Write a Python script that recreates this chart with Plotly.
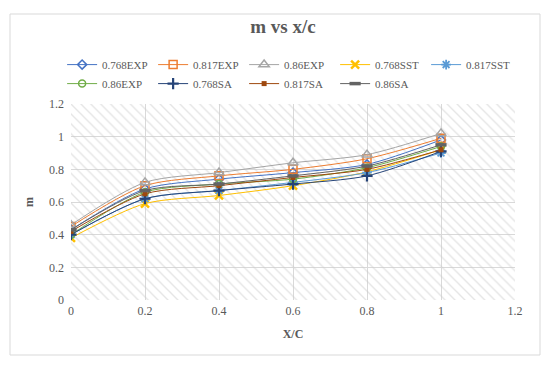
import plotly.graph_objects as go

# ---- data ----
x_c = [0, 0.2, 0.4, 0.6, 0.8, 1.0]
names = ["0.768EXP", "0.817EXP", "0.86EXP", "0.768SST", "0.817SST",
         "0.86EXP", "0.768SA", "0.817SA", "0.86SA"]
m_768EXP = [0.43, 0.68, 0.74, 0.78, 0.83, 0.98]
m_817EXP = [0.45, 0.70, 0.76, 0.80, 0.865, 0.99]
m_86EXP = [0.46, 0.72, 0.78, 0.84, 0.89, 1.02]
m_768SST = [0.38, 0.59, 0.64, 0.70, 0.785, 0.92]
m_817SST = [0.40, 0.62, 0.67, 0.72, 0.78, 0.90]
m_86EXP_b = [0.40, 0.66, 0.71, 0.74, 0.81, 0.94]
m_768SA = [0.40, 0.62, 0.67, 0.71, 0.76, 0.91]
m_817SA = [0.42, 0.65, 0.70, 0.75, 0.80, 0.92]
m_86SA = [0.43, 0.67, 0.71, 0.76, 0.82, 0.95]
series = [m_768EXP, m_817EXP, m_86EXP, m_768SST, m_817SST,
          m_86EXP_b, m_768SA, m_817SA, m_86SA]

x_ticks = [0, 0.2, 0.4, 0.6, 0.8, 1, 1.2]
y_ticks = [0, 0.2, 0.4, 0.6, 0.8, 1, 1.2]
X_RANGE = [0, 1.2]
Y_RANGE = [0, 1.2]

# ---- styles ----
colors = ["#4472C4", "#ED7D31", "#A5A5A5", "#FFC000", "#5B9BD5",
          "#70AD47", "#264478", "#9E480E", "#636363"]
symbols = ["diamond-open", "square-open", "triangle-up-open", "x-thin-open",
           "asterisk-open", "circle-open", "cross-thin-open", "square",
           "line-ew-open"]
sizes = [7, 8, 9, 8, 8, 7, 8, 5, 8]
mlw = [1.5, 1.5, 1.5, 2.5, 1.8, 1.5, 2.2, 0, 3.5]

FONT = "Liberation Serif, Times New Roman, serif"
GRAY = "#595959"

# the page body adds an 8px offset; layout below is expressed in figure px
L, R, T, B = 63, 43, 96, 75
PW, PH = 550 - L - R, 367 - T - B

fig = go.Figure()

# hatched plot-area background
fig.add_trace(go.Bar(
    x=[(X_RANGE[0] + X_RANGE[1]) / 2], y=[Y_RANGE[1]],
    width=[X_RANGE[1] - X_RANGE[0]],
    marker=dict(color="rgba(0,0,0,0)", line=dict(width=0),
                pattern=dict(shape="\\", fgcolor="#cccccc",
                             bgcolor="rgba(0,0,0,0)", size=7, solidity=0.2,
                             fillmode="overlay")),
    hoverinfo="skip", showlegend=False))

for nm, ys, c, s, sz, lw in zip(names, series, colors, symbols, sizes, mlw):
    fig.add_trace(go.Scatter(
        x=x_c, y=ys, name=nm, mode="lines+markers",
        line=dict(color=c, width=1, shape="spline", smoothing=0.8),
        marker=dict(symbol=s, size=sz, color=c,
                    line=dict(color=c, width=lw)),
    ))

fig.update_layout(
    width=550, height=367,
    margin=dict(l=L, r=R, t=T, b=B),
    paper_bgcolor="white", plot_bgcolor="white",
    font=dict(family=FONT, color=GRAY, size=12),
    title=dict(text="<b>m vs x/c</b>", x=0.5, xanchor="center",
               y=1 - 18 / 367, yanchor="middle",
               font=dict(family=FONT, size=19, color=GRAY)),
    legend=dict(orientation="h", x=-0.02, xanchor="left",
                y=1.275, yanchor="top",
                font=dict(family=FONT, size=11, color=GRAY),
                itemwidth=30, entrywidth=46, tracegroupgap=0,
                bgcolor="rgba(0,0,0,0)"),
    showlegend=True,
    barmode="overlay", bargap=0,
    xaxis=dict(range=X_RANGE, tickvals=x_ticks,
               ticktext=[f"{v:g}" for v in x_ticks],
               showgrid=True, gridcolor="#D9D9D9", gridwidth=1,
               zeroline=False, showline=False, ticks="",
               ticklabelstandoff=2,
               tickfont=dict(family=FONT, size=12, color=GRAY),
               title=dict(text="<b>X/C</b>", standoff=12,
                          font=dict(family=FONT, size=12, color=GRAY))),
    yaxis=dict(range=Y_RANGE, tickvals=y_ticks,
               ticktext=[f"{v:g}" for v in y_ticks],
               showgrid=True, gridcolor="#D9D9D9", gridwidth=1,
               zeroline=False, showline=False, ticks="",
               ticklabelstandoff=6,
               tickfont=dict(family=FONT, size=12, color=GRAY),
               title=dict(text="<b>m</b>", standoff=12,
                          font=dict(family=FONT, size=12, color=GRAY))),
)

# outer chart border (target page px 10..540 x 14..355, minus 8px body offset)
fig.add_shape(type="rect", xref="paper", yref="paper",
              x0=(2 - L) / PW, x1=(532 - L) / PW,
              y0=(T + PH - 347) / PH, y1=(T + PH - 6) / PH,
              line=dict(color="#D9D9D9", width=1), layer="below")

fig.write_html("out.html")
